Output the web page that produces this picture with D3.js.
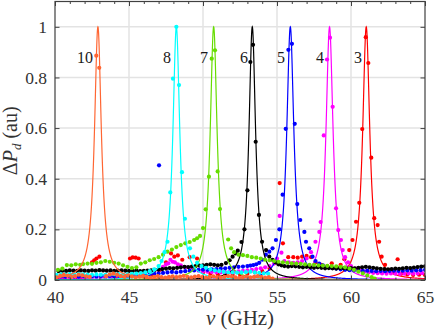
<!DOCTYPE html>
<html>
<head>
<meta charset="utf-8">
<script src="https://cdn.jsdelivr.net/npm/d3@7"></script>
<style>
  body { margin: 0; background: #fff; }
  svg, svg text { font-family: "Liberation Serif", "DejaVu Serif", serif !important; }
</style>
</head>
<body>
<svg id="chart" width="436" height="332"></svg>
<script>
// peak labels (mode number), colours, fit parameters (GHz)
const modes = ["3", "4", "5", "6", "7", "8", "10"];
const colors = ["#ff0000", "#ff00ff", "#0000ff", "#000000", "#66dd00", "#00ffff", "#ff6633"];
const fitCenter = [61.03, 58.55, 55.9, 53.33, 50.72, 48.2, 42.9];
const fitWidth = [0.29, 0.29, 0.29, 0.27, 0.28, 0.28, 0.28];
const labelX = [60.74, 58.18, 55.54, 53.04, 50.34, 47.84, 42.57];
const labelY = 0.876;

const xTicks = [40, 45, 50, 55, 60, 65];
const yTicks = [0, 0.2, 0.4, 0.6, 0.8, 1];

// measured points, [GHz, au]
const dots3 = [[40.2,.006],[40.6,.008],[41.0,.007],[41.4,.006],[41.8,.008],[42.2,.01],[42.5,.07],[42.65,.078],[42.8,.085],[43.0,.092],[43.4,.01],[43.8,.008],[44.2,.007],[44.6,.009],[45.07,.085],[45.25,.089],[45.45,.088],[45.65,.085],[46.1,.012],[46.6,.02],[47.1,.04],[47.5,.07],[47.84,.105],[48.06,.092],[48.3,.097],[48.6,.08],[49.1,.09],[49.6,.085],[50.0,.03],[50.5,.025],[51.0,.022],[51.5,.02],[52.0,.02],[52.5,.022],[53.0,.025],[53.5,.03],[54.0,.035],[54.5,.045],[55.18,.383],[55.4,.145],[55.76,.09],[56.1,.09],[56.4,.088],[56.7,.092],[57.0,.095],[57.3,.09],[57.6,.07],[58.0,.06],[58.4,.055],[58.7,.066],[59.05,.05],[59.3,.06],[59.55,.082],[59.88,.118],[60.1,.158],[60.34,.23],[60.56,.305],[60.76,.596],[61.0,.959],[61.17,.857],[61.37,.483],[61.57,.244],[61.8,.217],[61.9,.151],[62.07,.092],[62.3,.06],[62.6,.04],[62.9,.03],[63.15,.082],[63.4,.025],[63.8,.022],[64.2,.02],[64.6,.021],[65.0,.02]];
const dots4 = [[40.1,.008],[40.4,.009],[40.7,.008],[41.0,.01],[41.3,.009],[41.6,.008],[41.9,.01],[42.2,.011],[42.5,.01],[42.8,.009],[43.1,.011],[43.4,.012],[43.7,.011],[44.0,.01],[44.3,.012],[44.6,.013],[44.9,.012],[45.2,.014],[45.5,.015],[45.8,.017],[46.1,.02],[46.4,.025],[46.7,.032],[47.0,.04],[47.3,.052],[47.5,.062],[47.66,.066],[47.8,.08],[47.95,.072],[48.1,.07],[48.3,.062],[48.5,.058],[48.8,.05],[49.1,.045],[49.4,.04],[49.7,.037],[50.0,.035],[50.3,.033],[50.6,.032],[50.9,.031],[51.2,.03],[51.5,.031],[51.8,.032],[52.1,.033],[52.4,.034],[52.7,.036],[53.0,.038],[53.3,.04],[53.6,.043],[53.9,.046],[54.2,.05],[54.5,.055],[54.8,.065],[55.0,.085],[55.18,.253],[55.3,.108],[55.5,.075],[55.8,.07],[56.1,.068],[56.4,.07],[56.7,.075],[57.0,.085],[57.3,.11],[57.6,.151],[57.86,.19],[57.95,.229],[58.16,.571],[58.38,.871],[58.58,.957],[58.76,.684],[58.99,.283],[59.14,.197],[59.32,.158],[59.44,.118],[59.6,.09],[59.8,.07],[60.0,.055],[60.3,.045],[60.6,.038],[60.9,.033],[61.2,.03],[61.5,.028],[61.8,.027],[62.1,.026],[62.4,.025],[62.7,.026],[63.0,.025],[63.3,.024],[63.6,.025],[63.9,.026],[64.2,.025],[64.5,.026],[64.8,.027]];
const dots5 = [[40.1,.012],[40.4,.014],[40.7,.013],[41.0,.015],[41.3,.014],[41.6,.013],[41.9,.015],[42.2,.016],[42.5,.015],[42.8,.014],[43.1,.016],[43.4,.017],[43.7,.016],[44.0,.015],[44.3,.017],[44.6,.018],[44.9,.017],[45.2,.019],[45.5,.02],[45.8,.019],[46.1,.021],[46.4,.022],[46.7,.024],[47.03,.453],[47.0,.026],[47.3,.028],[47.6,.03],[47.9,.032],[48.2,.03],[48.5,.033],[48.8,.035],[49.1,.037],[49.4,.038],[49.7,.04],[50.0,.041],[50.3,.04],[50.6,.042],[50.9,.043],[51.2,.045],[51.5,.046],[51.8,.048],[52.1,.05],[52.4,.052],[52.7,.053],[53.0,.055],[53.2,.057],[53.4,.059],[53.6,.062],[53.8,.068],[54.0,.08],[54.25,.1],[54.48,.112],[54.7,.125],[54.93,.158],[55.16,.2],[55.38,.337],[55.59,.597],[55.77,.909],[56.01,.933],[56.2,.617],[56.37,.3],[56.57,.237],[56.85,.19],[56.96,.151],[57.18,.125],[57.4,.092],[57.6,.075],[57.85,.065],[58.1,.058],[58.4,.052],[58.7,.048],[59.0,.045],[59.3,.042],[59.6,.04],[59.9,.039],[60.2,.038],[60.5,.037],[60.8,.036],[61.1,.037],[61.4,.036],[61.7,.035],[62.0,.036],[62.3,.035],[62.6,.036],[62.9,.037],[63.2,.036],[63.5,.037],[63.8,.038],[64.1,.037],[64.4,.038],[64.7,.039],[65.0,.04]];
const dots6 = [[40.25,.035],[40.5,.037],[40.75,.036],[41.0,.038],[41.25,.037],[41.5,.036],[41.75,.038],[42.0,.037],[42.25,.036],[42.5,.038],[42.75,.037],[43.0,.039],[43.25,.038],[43.5,.037],[43.75,.038],[44.0,.036],[44.25,.037],[44.5,.038],[44.75,.037],[45.0,.036],[45.25,.036],[45.5,.037],[45.75,.035],[46.0,.036],[46.25,.037],[46.5,.038],[46.75,.04],[47.0,.041],[47.25,.043],[47.5,.045],[47.75,.047],[48.0,.046],[48.25,.048],[48.5,.05],[48.75,.052],[49.0,.051],[49.25,.053],[49.5,.055],[49.75,.057],[50.0,.058],[50.25,.06],[50.5,.062],[50.75,.06],[51.0,.058],[51.25,.06],[51.55,.067],[51.8,.078],[52.0,.092],[52.2,.105],[52.35,.116],[52.6,.15],[52.8,.2],[53.0,.354],[53.2,.861],[53.38,.929],[53.56,.546],[53.78,.257],[53.99,.151],[54.26,.118],[54.48,.092],[54.7,.08],[54.9,.07],[55.1,.062],[55.3,.058],[55.5,.055],[55.75,.053],[56.0,.055],[56.25,.054],[56.5,.052],[56.75,.05],[57.0,.052],[57.25,.05],[57.5,.048],[57.75,.05],[58.0,.048],[58.25,.046],[58.5,.047],[58.75,.046],[59.0,.045],[59.25,.047],[59.5,.046],[59.75,.045],[60.0,.047],[60.25,.046],[60.5,.048],[60.75,.05],[61.0,.052],[61.25,.05],[61.5,.048],[61.75,.046],[62.0,.044],[62.25,.043],[62.5,.042],[62.75,.043],[63.0,.045],[63.25,.044],[63.5,.046],[63.75,.048],[64.0,.047],[64.25,.049],[64.5,.051],[64.75,.053],[65.0,.054]];
const dots7 = [[40.2,.04],[40.5,.045],[40.8,.059],[41.1,.058],[41.4,.062],[41.7,.06],[41.9,.063],[42.2,.065],[42.5,.064],[42.8,.068],[43.1,.07],[43.4,.075],[43.7,.072],[44.0,.068],[44.3,.065],[44.6,.058],[44.9,.052],[45.2,.047],[45.5,.05],[45.8,.065],[46.1,.07],[46.4,.078],[46.7,.083],[47.0,.09],[47.3,.1],[47.6,.112],[47.9,.12],[48.2,.13],[48.5,.138],[48.8,.145],[49.1,.15],[49.4,.158],[49.6,.165],[49.8,.174],[50.0,.205],[50.18,.279],[50.4,.408],[50.59,.874],[50.81,.907],[50.99,.429],[51.15,.28],[51.7,.16],[51.9,.125],[52.1,.11],[52.4,.1],[52.7,.098],[53.0,.095],[53.3,.09],[53.6,.088],[53.9,.085],[54.2,.08],[54.5,.078],[54.8,.075],[55.1,.072],[55.4,.07],[55.7,.068],[56.0,.066],[56.3,.065],[56.6,.064],[56.9,.062],[57.2,.06],[57.5,.06],[57.8,.058],[58.1,.057],[58.4,.056],[58.7,.055],[59.0,.054],[59.3,.052],[59.6,.05],[59.9,.045],[60.2,.04],[60.5,.033],[60.8,.026],[61.1,.018],[61.4,.011],[61.6,.006]];
const dots8 = [[40.1,.02],[40.4,.022],[40.7,.021],[41.0,.023],[41.3,.022],[41.6,.024],[41.9,.022],[42.2,.021],[42.5,.02],[42.8,.022],[43.1,.021],[43.4,.02],[43.7,.022],[44.0,.023],[44.3,.022],[44.6,.02],[44.9,.022],[45.2,.024],[45.5,.025],[45.8,.027],[46.1,.03],[46.4,.035],[46.7,.042],[47.0,.055],[47.2,.075],[47.4,.11],[47.6,.151],[47.79,.346],[47.97,.795],[48.2,1.0],[48.38,.77],[48.58,.426],[48.78,.242],[49.12,.125],[49.35,.092],[49.6,.068],[49.9,.055],[50.2,.048],[50.5,.042],[50.8,.038],[51.1,.035],[51.4,.032],[51.7,.03],[52.0,.03],[52.3,.029],[52.6,.03],[52.9,.031],[53.2,.033],[53.5,.03],[53.8,.028],[54.1,.026],[54.4,.025]];
const dots10 = [[40.1,.01],[40.35,.016],[40.6,.02],[40.85,.017],[41.1,.012],[41.35,.015],[41.6,.021],[41.85,.018],[42.1,.014],[42.35,.012],[42.79,.886],[42.99,.838],[43.45,.015],[43.7,.022],[43.95,.025],[44.2,.02],[44.45,.015],[44.7,.012],[44.95,.018],[45.2,.014],[45.45,.01],[45.7,.013],[45.95,.016],[46.2,.012],[46.45,.009],[46.7,.012],[46.95,.015],[47.2,.011],[47.45,.009],[47.7,.012],[47.95,.014],[48.2,.011],[48.45,.013],[48.7,.016],[48.95,.012],[49.2,.01],[49.45,.013],[49.7,.015],[49.95,.011],[50.2,.009],[50.45,.012],[50.7,.014],[50.95,.011],[51.2,.01],[51.45,.012],[51.7,.015],[51.95,.013],[52.2,.01],[52.45,.008],[52.7,.011],[52.95,.013],[53.2,.01],[53.45,.012],[53.7,.015],[53.95,.012],[54.2,.009],[54.45,.011],[54.7,.006]];
const allDots = [dots3, dots4, dots5, dots6, dots7, dots8, dots10];

const svg = d3.select("#chart");
const margin = { left: 55, right: 11, top: 1.5, bottom: 52 };
const W = 436, H = 332;
const x = d3.scaleLinear().domain([40, 65]).range([margin.left, W - margin.right]);
const y = d3.scaleLinear().domain([0, 1.1]).range([H - margin.bottom, margin.top]);

svg.append("defs").append("clipPath").attr("id", "clip")
  .append("rect")
  .attr("x", x(40)).attr("y", y(1.1))
  .attr("width", x(65) - x(40)).attr("height", y(0) - y(1.1));

// grid
const grid = svg.append("g").attr("stroke", "#e3e3e3").attr("stroke-width", 1.5);
grid.selectAll(".gx").data(xTicks.slice(1, -1)).join("line")
  .attr("x1", d => x(d)).attr("x2", d => x(d))
  .attr("y1", y(0)).attr("y2", y(1.1));
grid.selectAll(".gy").data(yTicks.slice(1)).join("line")
  .attr("x1", x(40)).attr("x2", x(65))
  .attr("y1", d => y(d)).attr("y2", d => y(d));

// fits + measured points
const plot = svg.append("g").attr("clip-path", "url(#clip)");
const fx = d3.range(40, 65.0001, 0.01);
const line = d3.line().x(d => x(d[0])).y(d => y(d[1]));

modes.forEach((m, i) => {
  const c = fitCenter[i], g = fitWidth[i];
  const fit = fx.map(v => [v, 1 / (1 + ((v - c) / g) ** 2)]);
  plot.append("path")
    .datum(fit)
    .attr("fill", "none")
    .attr("stroke", colors[i])
    .attr("stroke-width", 1.2)
    .attr("d", line);
  plot.append("g").selectAll("circle")
    .data(allDots[i])
    .join("circle")
    .attr("cx", d => x(d[0]))
    .attr("cy", d => y(d[1]))
    .attr("r", 2.1)
    .attr("fill", colors[i]);
});

// peak labels
svg.append("g").selectAll("text")
  .data(modes)
  .join("text")
  .attr("x", (d, i) => x(labelX[i]))
  .attr("y", y(labelY) + 5)
  .attr("text-anchor", "end")
  .attr("font-size", 16)
  .attr("fill", "#1a1a1a")
  .text(d => d);

// axes (ticks pointing inward)
const axisColor = "#404040";
const fmt = d3.format("~g");
function styleAxis(g) {
  g.select(".domain").remove();
  g.attr("font-family", null);
  g.selectAll(".tick line").attr("stroke", axisColor);
  g.selectAll("text").attr("fill", "#333").attr("font-size", 17.5);
}
const minorX = d3.range(40, 65.5, 1);

svg.append("g").attr("transform", `translate(0,${y(0)})`)
  .call(d3.axisBottom(x).tickValues(minorX).tickSize(-2.5).tickFormat(""))
  .call(styleAxis);
svg.append("g").attr("transform", `translate(0,${y(0)})`)
  .call(d3.axisBottom(x).tickValues(xTicks).tickSize(-4.5).tickPadding(11).tickFormat(fmt))
  .call(styleAxis);
svg.append("g").attr("transform", `translate(0,${y(1.1)})`)
  .call(d3.axisTop(x).tickValues(minorX).tickSize(-2.5).tickFormat(""))
  .call(styleAxis);
svg.append("g").attr("transform", `translate(0,${y(1.1)})`)
  .call(d3.axisTop(x).tickValues(xTicks).tickSize(-4.5).tickFormat(""))
  .call(styleAxis);
svg.append("g").attr("transform", `translate(${x(40)},0)`)
  .call(d3.axisLeft(y).tickValues(yTicks).tickSize(-4.5).tickPadding(8).tickFormat(fmt))
  .call(styleAxis);
svg.append("g").attr("transform", `translate(${x(65)},0)`)
  .call(d3.axisRight(y).tickValues(yTicks).tickSize(-4.5).tickFormat(""))
  .call(styleAxis);

// frame
svg.append("rect")
  .attr("x", x(40)).attr("y", y(1.1))
  .attr("width", x(65) - x(40)).attr("height", y(0) - y(1.1))
  .attr("fill", "none")
  .attr("stroke", axisColor)
  .attr("stroke-width", 1.2);

// axis titles
const xt = svg.append("text")
  .attr("x", 240).attr("y", 325)
  .attr("text-anchor", "middle")
  .attr("font-size", 21)
  .attr("fill", "#333");
xt.append("tspan").attr("font-style", "italic").text("ν");
xt.append("tspan").text(" (GHz)");

const yt = svg.append("text")
  .attr("transform", `translate(17,${(y(0) + y(1.1)) / 2}) rotate(-90)`)
  .attr("text-anchor", "middle")
  .attr("font-size", 20)
  .attr("fill", "#333");
yt.append("tspan").text("Δ");
yt.append("tspan").attr("font-style", "italic").text("P");
yt.append("tspan").attr("font-style", "italic").attr("font-size", 13).attr("dy", 4).text("d");
yt.append("tspan").attr("dy", -4).text(" (au)");
</script>
</body>
</html>
